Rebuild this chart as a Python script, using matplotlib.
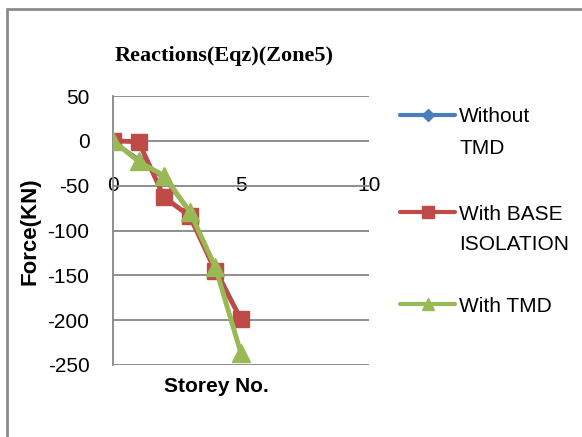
import numpy as np
import matplotlib
matplotlib.use("Agg")
import matplotlib.pyplot as plt
from matplotlib.lines import Line2D
from matplotlib.patches import Rectangle

plt.rcParams["axes.unicode_minus"] = False

# data
storey = [0, 1, 2, 3, 4, 5]
without_tmd = [0, -20, -43, -80, -140, -198]
base_isolation = [0, -1, -63, -84, -145, -199]
with_tmd = [0, -23, -39, -79, -141, -237]

labels = [["Without", "TMD"], ["With BASE", "ISOLATION"], ["With TMD"]]
colors = ["#4A7EBB", "#BE4B48", "#98B954"]

x_ticks = [0, 5, 10]
y_ticks = [50, 0, -50, -100, -150, -200, -250]

W, H = 582, 437
sans = ["Liberation Sans", "DejaVu Sans"]

fig = plt.figure(figsize=(W / 100, H / 100), dpi=100)
ax = fig.add_axes([113 / W, 1 - 365 / H, (369 - 113) / W, (365 - 96) / H])

# outer chart frame (only left and top visible in the reference)
fig.add_artist(Rectangle((7 / W, -0.1), 1.2, 1 - 9 / H + 0.1,
                         transform=fig.transFigure, fill=False,
                         edgecolor="#8c8c8c", lw=2))

ax.plot(storey, without_tmd, color=colors[0], lw=2, marker="D", ms=5, zorder=3)
ax.plot(storey, base_isolation, color=colors[1], lw=3.5, marker="s", ms=12, zorder=4)
ax.plot(storey, with_tmd, color=colors[2], lw=3.5, marker="^", ms=13, zorder=5)

ax.set_xlim(0, 10)
ax.set_ylim(-250, 50)
ax.set_yticks(y_ticks)
ax.set_xticks(x_ticks)
ax.grid(axis="y", color="#868686", lw=1.3)
ax.set_axisbelow(True)

for s in ["top", "right"]:
    ax.spines[s].set_visible(False)
ax.spines["left"].set_color("#868686")
ax.spines["left"].set_linewidth(1.3)
ax.spines["bottom"].set_position(("data", 0))
ax.spines["bottom"].set_visible(False)

ax.tick_params(axis="both", length=0, labelsize=15)
ax.tick_params(axis="x", pad=25)
ax.tick_params(axis="y", pad=17)
for lab in ax.get_xticklabels() + ax.get_yticklabels():
    lab.set_family(sans)

fig.text(224 / W, 1 - 56 / H, "Reactions(Eqz)(Zone5)", ha="center", va="center",
         fontsize=16, fontweight="bold", family=["Liberation Serif", "DejaVu Serif"])
fig.text(30 / W, 1 - 231 / H, "Force(KN)", rotation=90, ha="center", va="center",
         fontsize=16, fontweight="bold", family=sans)
fig.text(216 / W, 1 - 387 / H, "Storey No.", ha="center", va="center",
         fontsize=15, fontweight="bold", family=sans)

# legend, handle aligned with first text line like Excel
leg_y = [115, 212, 304]
markers = [("D", 6), ("s", 9), ("^", 9)]
for yy, lab, c, (m, ms) in zip(leg_y, labels, colors, markers):
    fy = 1 - yy / H
    fig.add_artist(Line2D([400 / W, 455 / W], [fy, fy], transform=fig.transFigure,
                          color=c, lw=3, solid_capstyle="round"))
    fig.add_artist(Line2D([428 / W], [fy], transform=fig.transFigure,
                          color=c, marker=m, ms=ms, lw=0))
    for i, line in enumerate(lab):
        fig.text(459 / W, 1 - (yy + 2 + 31 * i) / H, line, ha="left", va="center",
                 fontsize=15, family=sans)

fig.savefig("out.png", dpi=100)
